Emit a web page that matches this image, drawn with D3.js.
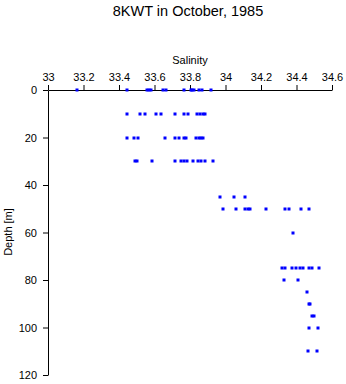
<!DOCTYPE html>
<html><head><meta charset="utf-8">
<script src="https://cdn.jsdelivr.net/npm/d3@7"></script>
<style>
html,body{margin:0;padding:0;background:#fff;}
svg text{font-family:"Liberation Sans",Arial,sans-serif;fill:#000;}
</style></head>
<body><svg id="c" width="346" height="384"></svg>
<script>
const title = "8KWT in October, 1985";
const xLabel = "Salinity";
const yLabel = "Depth [m]";
const xTicks = [33, 33.2, 33.4, 33.6, 33.8, 34, 34.2, 34.4, 34.6];
const yTicks = [0, 20, 40, 60, 80, 100, 120];
const depths = [0, 10, 20, 30, 45, 50, 60, 75, 80, 85, 90, 95, 100, 110];
const salinity = [
  [33.163, 33.447, 33.56, 33.57, 33.583, 33.648, 33.667, 33.766, 33.804, 33.812, 33.821, 33.849, 33.868, 33.917],
  [33.443, 33.518, 33.546, 33.608, 33.637, 33.716, 33.766, 33.789, 33.841, 33.855, 33.872, 33.886],
  [33.447, 33.485, 33.507, 33.657, 33.716, 33.738, 33.766, 33.78, 33.832, 33.849, 33.86, 33.873],
  [33.488, 33.504, 33.586, 33.716, 33.748, 33.765, 33.784, 33.817, 33.843, 33.86, 33.883, 33.93],
  [33.971, 34.048, 34.108],
  [33.986, 34.058, 34.108, 34.128, 34.139, 34.228, 34.337, 34.358, 34.428, 34.469],
  [34.38],
  [34.318, 34.335, 34.377, 34.395, 34.42, 34.437, 34.469, 34.487, 34.529],
  [34.33, 34.409],
  [34.459],
  [34.471, 34.478],
  [34.489, 34.497],
  [34.47, 34.519],
  [34.467, 34.518]
];

const svg = d3.select("#c");
const x = d3.scaleLinear().domain([33, 34.6]).range([48, 332]);
const y = d3.scaleLinear().domain([0, 120]).range([90, 375]);

svg.append("g").attr("transform", "translate(0,90)")
  .call(d3.axisTop(x).tickValues(xTicks).tickFormat(d3.format("")).tickSizeInner(5).tickSizeOuter(0).tickPadding(4))
  .call(g => { g.select(".domain").attr("stroke", "#000"); g.selectAll("line").attr("stroke", "#000");
    g.selectAll("text").attr("font-size", 11).attr("font-family", "Liberation Sans, Arial, sans-serif"); });

svg.append("g").attr("transform", "translate(48,0)")
  .call(d3.axisLeft(y).tickValues(yTicks).tickSizeInner(5).tickSizeOuter(0).tickPadding(6))
  .call(g => { g.select(".domain").attr("stroke", "#000"); g.selectAll("line").attr("stroke", "#000");
    g.selectAll("text").attr("font-size", 11).attr("font-family", "Liberation Sans, Arial, sans-serif"); });

svg.append("text").attr("x", 188).attr("y", 16).attr("text-anchor", "middle").attr("font-size", 14.5).text(title);
svg.append("text").attr("x", 190).attr("y", 64).attr("text-anchor", "middle").attr("font-size", 11).text(xLabel);
svg.append("text").attr("transform", "translate(12,232) rotate(-90)").attr("text-anchor", "middle").attr("font-size", 11).text(yLabel);

const pts = [];
depths.forEach((d, i) => salinity[i].forEach(s => pts.push({d, s})));
svg.append("g").selectAll("rect").data(pts).join("rect")
  .attr("x", p => Math.round(x(p.s)) - 1.5).attr("y", p => Math.round(y(p.d)) - 1.5)
  .attr("width", 3).attr("height", 3).attr("fill", "#0000ff");
</script></body></html>
